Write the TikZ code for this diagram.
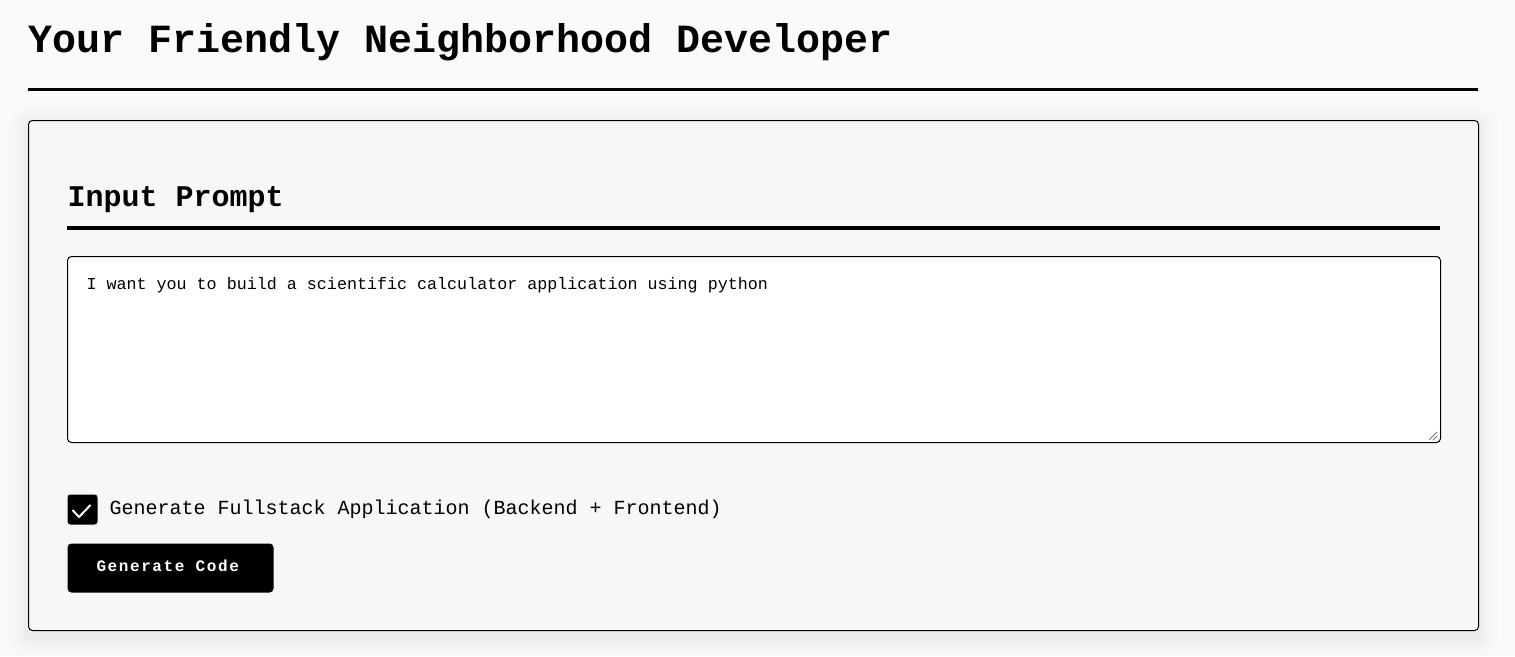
\documentclass[tikz,border=0pt]{standalone}
\usepackage{fontspec}
\setmonofont{Liberation Mono}
\newfontfamily\buttonfont[LetterSpace=10]{Liberation Mono}
\usetikzlibrary{positioning}
\definecolor{pagebg}{HTML}{FAFAFA}
\definecolor{cardbg}{HTML}{F7F7F7}
\definecolor{gripgray}{HTML}{777777}
\begin{document}
\begin{tikzpicture}[x=1pt,y=-1pt,line width=1pt,
	heading/.style={anchor=base west,inner sep=0pt,font=\ttfamily\bfseries},
	plain/.style={anchor=base west,inner sep=0pt,font=\ttfamily},
	rulebar/.style={line width=3.5pt},
	panel/.style={draw=black,rounded corners=4pt}]
		\fill[pagebg] (0,0) rectangle (1515,656);
		\useasboundingbox (0,0) rectangle (1515,656);
		% title and its rule
		\node[heading,font=\ttfamily\bfseries\fontsize{40}{40}\selectfont] (title) at (28,52.5) {Your Friendly Neighborhood Developer};
		\draw[rulebar] (28,89.5)--(1478,89.5);
		% card with a soft shadow
		\foreach \s/\o in {20/0.006,16/0.008,12/0.01,8/0.012,4/0.014}
			\fill[black,opacity=\o,rounded corners=\s pt] (28-\s,120-\s+6) rectangle (1478+\s,630+\s+6);
		\node[panel,fill=cardbg,minimum width=1450pt,minimum height=510pt,inner sep=0pt,anchor=north west] (card) at (28,120) {};
		\node[heading,font=\ttfamily\bfseries\fontsize{30}{30}\selectfont] (inhead) at (67,206.5) {Input Prompt};
		\draw[rulebar] (67,228)--(1440,228);
		% text area
		\node[panel,fill=white,minimum width=1373pt,minimum height=186pt,inner sep=0pt,anchor=north west] (prompt) at (67,256) {};
		\node[plain,font=\ttfamily\fontsize{16.7}{16.7}\selectfont] (prompttext) at (86,289) {I want you to build a scientific calculator application using python};
		\draw[gripgray,line width=0.8pt] (1429,440)--(1437,432);
		\draw[gripgray,line width=0.8pt] (1433,440)--(1437,436);
		% checkbox
		\node[fill=black,rounded corners=3pt,minimum size=30pt,inner sep=0pt,anchor=north west] (tick) at (67,494) {};
		\draw[white,line width=2pt] (72.5,510)--(79,517)--(90.5,505);
		\node[plain,font=\ttfamily\fontsize{20}{20}\selectfont] (ticklabel) at (109,514.5) {Generate Fullstack Application (Backend + Frontend)};
		% button
		\node[fill=black,rounded corners=4pt,minimum width=206pt,minimum height=49pt,inner sep=0pt,anchor=north west] (button) at (67,543) {};
		\node[text=white,font=\buttonfont\bfseries\fontsize{16}{16}\selectfont,inner sep=0pt,anchor=base west] (buttontext) at (96,571.5) {Generate Code};
\end{tikzpicture}
\end{document}
